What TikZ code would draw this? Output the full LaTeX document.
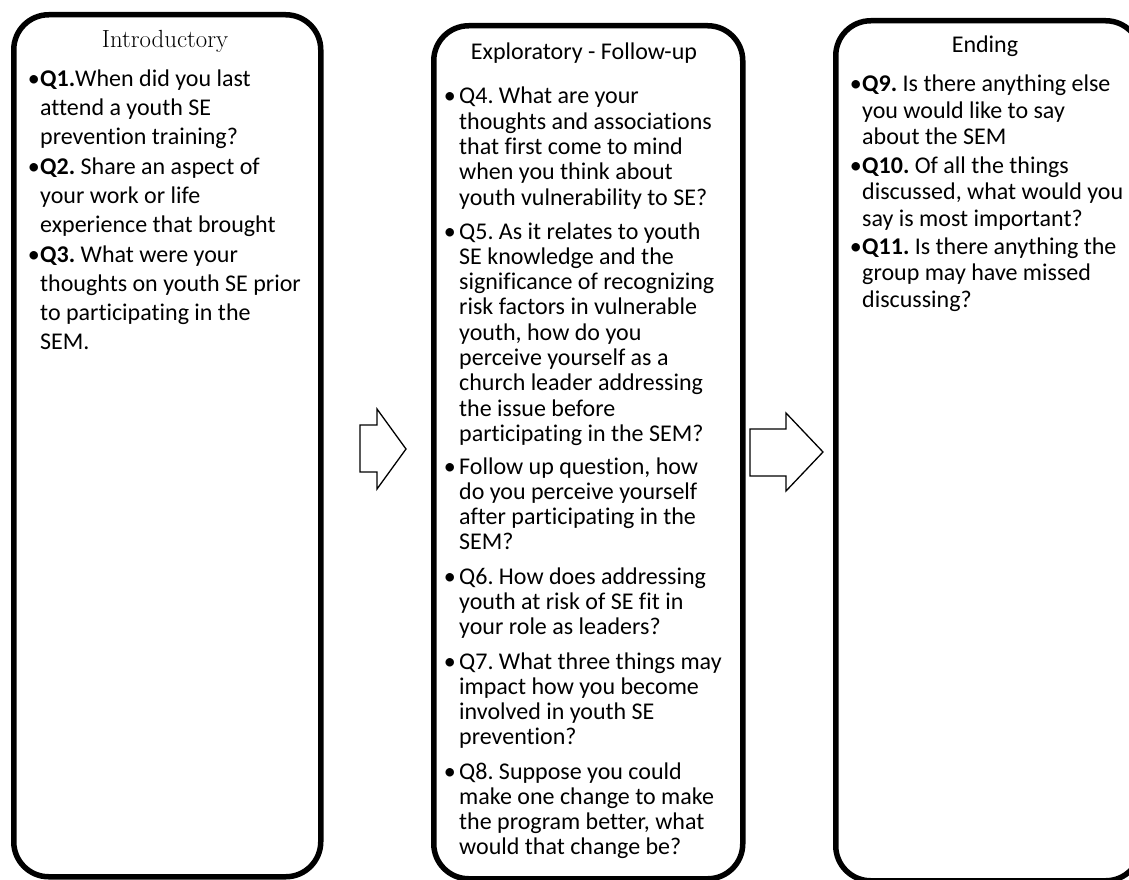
\documentclass[tikz,border=0pt]{standalone}
\usepackage{fontspec}
\setsansfont{Carlito}[Ligatures=NoCommon]
\frenchspacing
\tikzset{
  box/.style={draw=black, line width=5.5pt, rounded corners=35pt, anchor=north west, inner sep=0pt},
  blockarrow/.style={draw=black, fill=white, line width=1.3pt, line join=miter},
  item/.style={anchor=base west, inner sep=0pt, font=\sffamily},
  bul/.style={anchor=base east, inner sep=0pt, font=\sffamily\fontsize{24}{29}\selectfont},
  ttl/.style={anchor=base, inner sep=0pt},
}
\begin{document}
\begin{tikzpicture}
\useasboundingbox (0pt,0pt) rectangle (1129pt,-880pt);
\clip (0pt,0pt) rectangle (1129pt,-880pt);
% boxes
\node[box, minimum width=307pt, minimum height=862pt] (b1) at (11pt,-12pt) {};
\node[box, minimum width=309pt, minimum height=853pt] (b2) at (431pt,-23pt) {};
\node[box, minimum width=305pt, minimum height=860pt] (b3) at (833pt,-18pt) {};
% titles
\node[ttl] (t1) at (165pt,-48pt) {\fontsize{24.8}{29}\selectfont Introductory};
\node[ttl, font=\sffamily] (t2) at (584pt,-60pt) {\fontsize{24}{29}\selectfont Exploratory - Follow-up};
\node[ttl, font=\sffamily] (t3) at (985pt,-53pt) {\fontsize{24}{29}\selectfont Ending};
% box 1
\node[item] (q1) at (40pt,-87pt) {\parbox[t]{275pt}{\raggedright\fontsize{24}{29}\selectfont \textbf{Q1.}When did you last\\attend a youth SE\\prevention training?}};
\node[item] (q2) at (40pt,-174pt) {\parbox[t]{275pt}{\raggedright\fontsize{24}{29}\selectfont \textbf{Q2.} Share an aspect of\\your work or life\\experience that brought}};
\node[item] (q3) at (40pt,-262pt) {\parbox[t]{275pt}{\raggedright\fontsize{24}{29}\selectfont \textbf{Q3.} What were your\\thoughts on youth SE prior\\to participating in the\\SEM.}};
\node[bul] at (q1.base west) {•};
\node[bul] at (q2.base west) {•};
\node[bul] at (q3.base west) {•};
% box 2
\node[item] (q4) at (459pt,-104pt) {\parbox[t]{275pt}{\raggedright\fontsize{24}{25.3}\selectfont Q4. What are your\\thoughts and associations\\that first come to mind\\when you think about\\youth vulnerability to SE?}};
\node[item] (q5) at (459pt,-239pt) {\parbox[t]{275pt}{\raggedright\fontsize{24}{25.3}\selectfont Q5. As it relates to youth\\SE knowledge and the\\significance of recognizing\\risk factors in vulnerable\\youth, how do you\\perceive yourself as a\\church leader addressing\\the issue before\\participating in the SEM?}};
\node[item] (fu) at (459pt,-474pt) {\parbox[t]{275pt}{\raggedright\fontsize{24}{25.3}\selectfont Follow up question, how\\do you perceive yourself\\after participating in the\\SEM?}};
\node[item] (q6) at (459pt,-584pt) {\parbox[t]{275pt}{\raggedright\fontsize{24}{25.3}\selectfont Q6. How does addressing\\youth at risk of SE fit in\\your role as leaders?}};
\node[item] (q7) at (459pt,-669pt) {\parbox[t]{275pt}{\raggedright\fontsize{24}{25.3}\selectfont Q7. What three things may\\impact how you become\\involved in youth SE\\prevention?}};
\node[item] (q8) at (459pt,-779pt) {\parbox[t]{275pt}{\raggedright\fontsize{24}{25.3}\selectfont Q8. Suppose you could\\make one change to make\\the program better, what\\would that change be?}};
\foreach \n in {q4,q5,fu,q6,q7,q8}{\node[bul] at ([xshift=-3pt]\n.base west) {•};}
% box 3
\node[item] (q9) at (862pt,-92pt) {\parbox[t]{275pt}{\raggedright\fontsize{24}{26.5}\selectfont \textbf{Q9.} Is there anything else\\you would like to say\\about the SEM}};
\node[item] (q10) at (862pt,-173pt) {\parbox[t]{275pt}{\raggedright\fontsize{24}{26.5}\selectfont \textbf{Q10.} Of all the things\\discussed, what would you\\say is most important?}};
\node[item] (q11) at (862pt,-254pt) {\parbox[t]{275pt}{\raggedright\fontsize{24}{26.5}\selectfont \textbf{Q11.} Is there anything the\\group may have missed\\discussing?}};
\node[bul] at (q9.base west) {•};
\node[bul] at (q10.base west) {•};
\node[bul] at (q11.base west) {•};
% block arrows
\draw[blockarrow] (360pt,-425pt) -- (377pt,-425pt) -- (377pt,-409pt) -- (406pt,-449pt) -- (377pt,-489pt) -- (377pt,-472pt) -- (360pt,-472pt) -- cycle;
\draw[blockarrow] (750pt,-429pt) -- (786pt,-429pt) -- (786pt,-413pt) -- (823pt,-452pt) -- (786pt,-491pt) -- (786pt,-476pt) -- (750pt,-476pt) -- cycle;
\end{tikzpicture}
\end{document}
